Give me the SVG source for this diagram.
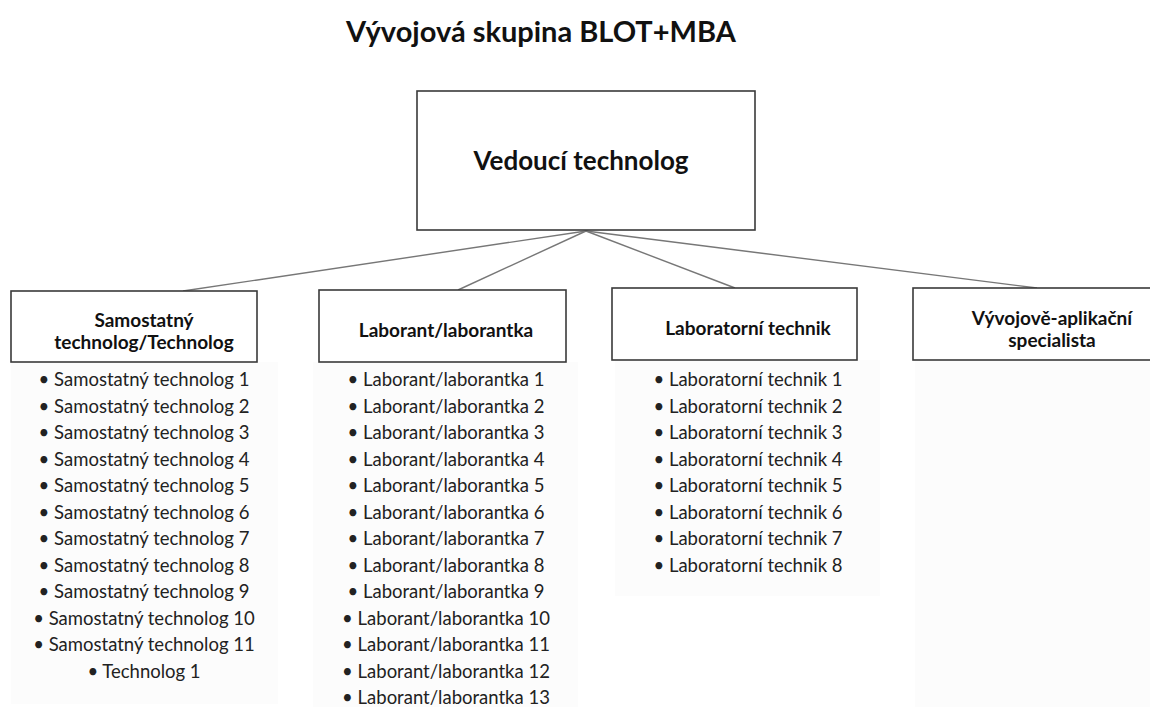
<svg xmlns="http://www.w3.org/2000/svg" width="1150" height="707" viewBox="0 0 1150 707">
<style>
.box{fill:#ffffff;stroke:#3a3a3a;stroke-width:1.6}
.panel{fill:#fcfcfc;stroke:none}
.lbl{font-family:Lato,"Liberation Sans",sans-serif;font-weight:bold;fill:#111;text-anchor:middle}
.item{font-family:Lato,"Liberation Sans",sans-serif;font-size:18.5px;fill:#222;text-anchor:middle}
.conn line{stroke:#777;stroke-width:1.4}
</style>
<rect width="1150" height="707" fill="#ffffff"/>
<text class="lbl" x="541" y="42" font-size="29">Vývojová skupina BLOT+MBA</text>

<g id="panels">
<rect class="panel" x="11" y="362" width="267" height="342"/>
<rect class="panel" x="313" y="362" width="265" height="345"/>
<rect class="panel" x="615" y="360" width="265" height="236"/>
<rect class="panel" x="915" y="360" width="235" height="347"/>
</g>

<g class="conn" id="connectors">
<line x1="586" y1="231" x2="183" y2="291"/>
<line x1="586" y1="231" x2="458" y2="290"/>
<line x1="586" y1="231" x2="735" y2="288"/>
<line x1="586" y1="231" x2="1037" y2="288"/>
</g>

<g id="node-vedouci">
<rect class="box" x="417" y="91" width="338" height="139"/>
<text class="lbl" x="581" y="170" font-size="26">Vedoucí technolog</text>
</g>

<g id="node-samostatny">
<rect class="box" x="11" y="291" width="246" height="71"/>
<text class="lbl" x="144" y="327" font-size="19">Samostatný</text>
<text class="lbl" x="144" y="349" font-size="19">technolog/Technolog</text>
</g>

<g id="node-laborant">
<rect class="box" x="319" y="290" width="247" height="72"/>
<text class="lbl" x="446" y="337" font-size="19">Laborant/laborantka</text>
</g>

<g id="node-technik">
<rect class="box" x="612" y="288" width="245" height="72"/>
<text class="lbl" x="748" y="335" font-size="19">Laboratorní technik</text>
</g>

<g id="node-specialista">
<rect class="box" x="913" y="288" width="250" height="72"/>
<text class="lbl" x="1052" y="325" font-size="19">Vývojově-aplikační</text>
<text class="lbl" x="1052" y="347" font-size="19">specialista</text>
</g>

<g id="list-samostatny">
<text class="item" x="144" y="386">• Samostatný technolog 1</text>
<text class="item" x="144" y="412.5">• Samostatný technolog 2</text>
<text class="item" x="144" y="439">• Samostatný technolog 3</text>
<text class="item" x="144" y="465.5">• Samostatný technolog 4</text>
<text class="item" x="144" y="492">• Samostatný technolog 5</text>
<text class="item" x="144" y="518.5">• Samostatný technolog 6</text>
<text class="item" x="144" y="545">• Samostatný technolog 7</text>
<text class="item" x="144" y="571.5">• Samostatný technolog 8</text>
<text class="item" x="144" y="598">• Samostatný technolog 9</text>
<text class="item" x="144" y="624.5">• Samostatný technolog 10</text>
<text class="item" x="144" y="651">• Samostatný technolog 11</text>
<text class="item" x="144" y="677.5">• Technolog 1</text>
</g>

<g id="list-laborant">
<text class="item" x="446" y="386">• Laborant/laborantka 1</text>
<text class="item" x="446" y="412.5">• Laborant/laborantka 2</text>
<text class="item" x="446" y="439">• Laborant/laborantka 3</text>
<text class="item" x="446" y="465.5">• Laborant/laborantka 4</text>
<text class="item" x="446" y="492">• Laborant/laborantka 5</text>
<text class="item" x="446" y="518.5">• Laborant/laborantka 6</text>
<text class="item" x="446" y="545">• Laborant/laborantka 7</text>
<text class="item" x="446" y="571.5">• Laborant/laborantka 8</text>
<text class="item" x="446" y="598">• Laborant/laborantka 9</text>
<text class="item" x="446" y="624.5">• Laborant/laborantka 10</text>
<text class="item" x="446" y="651">• Laborant/laborantka 11</text>
<text class="item" x="446" y="677.5">• Laborant/laborantka 12</text>
<text class="item" x="446" y="704">• Laborant/laborantka 13</text>
</g>

<g id="list-technik">
<text class="item" x="748" y="386">• Laboratorní technik 1</text>
<text class="item" x="748" y="412.5">• Laboratorní technik 2</text>
<text class="item" x="748" y="439">• Laboratorní technik 3</text>
<text class="item" x="748" y="465.5">• Laboratorní technik 4</text>
<text class="item" x="748" y="492">• Laboratorní technik 5</text>
<text class="item" x="748" y="518.5">• Laboratorní technik 6</text>
<text class="item" x="748" y="545">• Laboratorní technik 7</text>
<text class="item" x="748" y="571.5">• Laboratorní technik 8</text>
</g>
</svg>
